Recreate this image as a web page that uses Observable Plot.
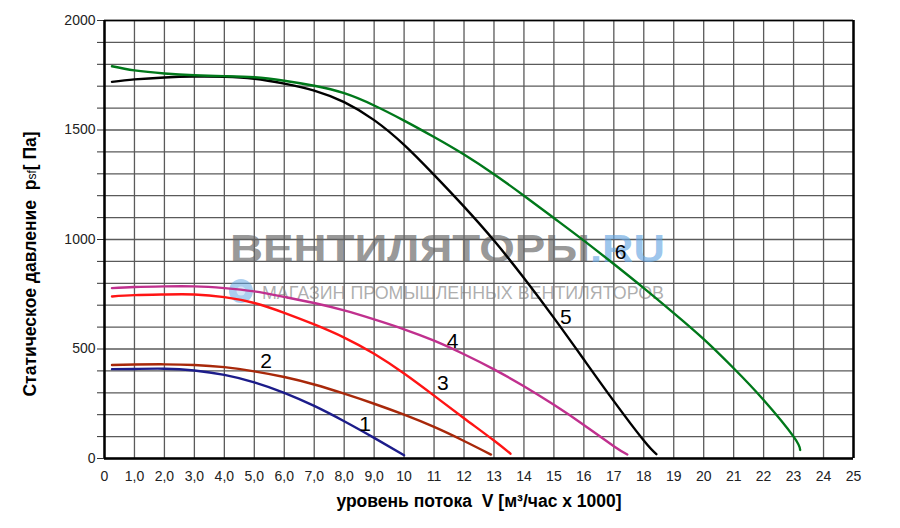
<!DOCTYPE html>
<html>
<head>
<meta charset="utf-8">
<script src="https://cdn.jsdelivr.net/npm/d3@7"></script>
<script src="https://cdn.jsdelivr.net/npm/@observablehq/plot@0.6"></script>
<style>
  html, body { margin: 0; padding: 0; background: #fff; }
  #chart { width: 900px; height: 528px; }
  svg text { white-space: pre; }
</style>
</head>
<body>
<div id="chart"></div>
<script>
// ---- data ----
const xTicks = d3.range(0, 26);
const xTickLabels = ["0","1,0","2,0","3,0","4,0","5,0","6,0","7,0","8,0","9,0","10","11","12","13","14","15","16","17","18","19","20","21","22","23","24","25"];
const yTicks = d3.range(0, 2001, 100);
const yTickLabels = [0, 500, 1000, 1500, 2000];

const v1 = [0.25,1,2,3,4,5,6,7,8,9,10];
const p1 = [408,409,410,402,382,348,300,240,170,94,15];

const v2 = [0.25,1,2,3,4,5,6,7,8,9,10,11,12,12.9];
const p2 = [427,429,430,427,417,398,372,338,296,250,200,144,80,18];

const v3 = [0.25,1,2,3,4,5,6,7,8,9,10,11,12,13,13.55];
const p3 = [740,746,749,749,737,710,665,612,552,478,388,287,184,82,22];

const v4 = [0.25,1,2,3,4,5,6,7,8,9,10,11,12,13,14,15,16,17,17.45];
const p4 = [778,783,786,786,778,763,738,710,676,635,590,538,476,407,330,245,153,56,18];

const v5 = [0.25,1,2,3,4,5,6,7,8,9,10,11,12,13,14,15,16,17,18,18.42];
const p5 = [1720,1731,1740,1744,1743,1734,1712,1680,1627,1545,1432,1295,1150,995,824,642,452,262,82,20];

const v6 = [0.25,1,2,3,4,5,6,7,8,9,10,11,12,13,14,15,16,17,18,19,20,21,22,23,23.22];
const p6 = [1791,1772,1758,1750,1746,1741,1725,1702,1668,1612,1543,1468,1388,1298,1200,1098,995,888,778,664,545,412,267,100,39];

const curveNames = ["1","2","3","4","5","6"];
const curveColors = ["#1c1c8a","#a8280a","#ff1414","#c0308e","#000000","#00781a"];
const labelV = [8.7, 5.39, 11.29, 11.62, 15.4, 17.23];
const labelP = [158, 443, 344, 534, 645, 943];

const xTitle = "уровень потока  V [м³/час x 1000]";
const yTitleA = "Статическое давление  p";
const yTitleSub = "sf";
const yTitleB = "[ Па]";

// ---- build tables ----
const series = [[v1,p1],[v2,p2],[v3,p3],[v4,p4],[v5,p5],[v6,p6]];
const rows = series.flatMap(([vs, ps], k) => vs.map((v, i) => ({v, p: ps[i], c: curveNames[k]})));
const labels = curveNames.map((n, i) => ({n, v: labelV[i], p: labelP[i]}));
const xLabelMap = new Map(xTicks.map((t, i) => [t, xTickLabels[i]]));

const font = "'Liberation Sans', Arial, sans-serif";

const chart = Plot.plot({
  width: 900,
  height: 528,
  marginLeft: 104,
  marginRight: 47,
  marginTop: 20,
  marginBottom: 70,
  style: {fontFamily: font, fontSize: "14px", color: "#222", background: "#fff", overflow: "visible"},
  x: {domain: [0, 25]},
  y: {domain: [0, 2000]},
  color: {domain: curveNames, range: curveColors},
  marks: [
    Plot.gridX(xTicks, {stroke: "#5a5a5a", strokeOpacity: 1, strokeWidth: 1.3}),
    Plot.gridY(yTicks, {stroke: "#5a5a5a", strokeOpacity: 1, strokeWidth: 1.3}),
    Plot.axisX(xTicks, {tickFormat: d => xLabelMap.get(d), tickSize: 0, tickPadding: 13, fontSize: 14, label: null}),
    Plot.axisY(yTicks, {tickFormat: d => yTickLabels.includes(d) ? String(d) : "", tickSize: 7, tickPadding: 2, fontSize: 14, label: null, stroke: "#333"}),
    Plot.ruleY([2000], {stroke: "#000", strokeWidth: 1.5}),
    Plot.ruleX([25], {stroke: "#000", strokeWidth: 2.5}),
    Plot.ruleX([0], {stroke: "#000", strokeWidth: 2.5}),
    Plot.ruleY([0], {stroke: "#000", strokeWidth: 2.5}),
    Plot.line(rows, {x: "v", y: "p", z: "c", stroke: "c", strokeWidth: 2.4, curve: "natural"}),
    Plot.text(labels, {x: "v", y: "p", text: "n", fontSize: 21, fill: "#000"}),
    Plot.text([xTitle], {frameAnchor: "bottom", dy: 48, fontSize: 17.5, fontWeight: "bold", fill: "#000"})
  ]
});

document.getElementById("chart").appendChild(chart);

// ---- y title with subscript ----
const svg = d3.select(chart);
const yt = svg.append("text")
  .attr("transform", "translate(36,264) rotate(-90)")
  .attr("text-anchor", "middle")
  .attr("font-family", font)
  .style("font-weight", "bold")
  .attr("font-size", 17.5)
  .attr("fill", "#000");
yt.append("tspan").text(yTitleA);
yt.append("tspan").attr("font-size", 12).style("font-weight", "normal").text(yTitleSub);
yt.append("tspan").text(yTitleB);

// ---- watermark (decorative) ----
const firstLine = chart.querySelector('g[aria-label="line"]');
const wm = svg.insert("g", () => firstLine).attr("font-family", font).attr("text-anchor", "start");
wm.append("text").attr("x", 230).attr("y", 262).attr("font-size", 38).style("font-weight", "bold")
  .attr("text-anchor", "start")
  .attr("textLength", 360).attr("lengthAdjust", "spacingAndGlyphs")
  .attr("fill", "rgba(100,100,100,0.68)").text("ВЕНТИЛЯТОРЫ");
wm.append("text").attr("x", 590).attr("y", 262).attr("font-size", 38).style("font-weight", "bold")
  .attr("text-anchor", "start")
  .attr("textLength", 75).attr("lengthAdjust", "spacingAndGlyphs")
  .attr("fill", "rgba(100,165,225,0.65)").text(".RU");
wm.append("circle").attr("cx", 241).attr("cy", 291).attr("r", 12).attr("fill", "rgba(100,165,225,0.55)");
wm.append("circle").attr("cx", 241).attr("cy", 291).attr("r", 4.5).attr("fill", "rgba(255,255,255,0.5)");
wm.append("text").attr("x", 262).attr("y", 299).attr("font-size", 18)
  .attr("text-anchor", "start")
  .attr("textLength", 402).attr("lengthAdjust", "spacingAndGlyphs")
  .attr("fill", "rgba(120,120,120,0.6)").text("МАГАЗИН ПРОМЫШЛЕННЫХ ВЕНТИЛЯТОРОВ");
</script>
</body>
</html>
